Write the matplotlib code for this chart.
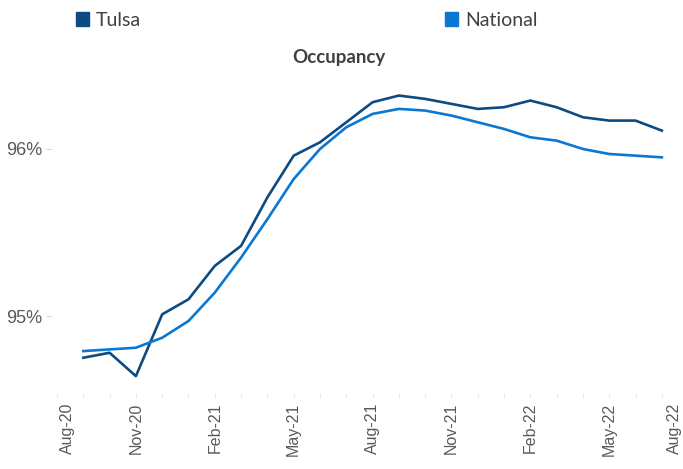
import matplotlib
matplotlib.use("Agg")
import matplotlib.pyplot as plt
import matplotlib.transforms as mtransforms
from matplotlib.patches import Patch
from matplotlib.ticker import FuncFormatter

# months from Aug-20 (0) to Aug-22 (24)
months = ['Aug-20', 'Sep-20', 'Oct-20', 'Nov-20', 'Dec-20', 'Jan-21', 'Feb-21',
          'Mar-21', 'Apr-21', 'May-21', 'Jun-21', 'Jul-21', 'Aug-21', 'Sep-21',
          'Oct-21', 'Nov-21', 'Dec-21', 'Jan-22', 'Feb-22', 'Mar-22', 'Apr-22',
          'May-22', 'Jun-22', 'Jul-22', 'Aug-22']

# data runs Sep-20 .. Jul-22
tulsa = [94.75, 94.78, 94.64, 95.01, 95.10, 95.30, 95.42, 95.71, 95.96, 96.04,
         96.16, 96.28, 96.32, 96.30, 96.27, 96.24, 96.25, 96.29, 96.25, 96.19,
         96.17, 96.17, 96.11]
national = [94.79, 94.80, 94.81, 94.87, 94.97, 95.14, 95.35, 95.58, 95.82, 96.00,
            96.13, 96.21, 96.24, 96.23, 96.20, 96.16, 96.12, 96.07, 96.05, 96.00,
            95.97, 95.96, 95.95]

c_tulsa = '#0D4B82'
c_nat = '#0A78D2'

fig = plt.figure(figsize=(6.83, 4.69), dpi=100)
ax = fig.add_axes([52 / 683, 76 / 469, 638 / 683, 318 / 469])

x = list(range(1, len(tulsa) + 1))
ax.plot(x, tulsa, color=c_tulsa, lw=1.9, label='Tulsa')
ax.plot(x, national, color=c_nat, lw=1.9, label='National')

ax.set_xlim(-0.19, 24.07)
ax.set_ylim(94.539, 96.443)

for s in ax.spines.values():
    s.set_visible(False)

ax.set_yticks([95, 96])
ax.yaxis.set_major_formatter(FuncFormatter(lambda v, p: '%d%%' % v))
ax.tick_params(axis='y', length=4, width=0.8, color='#d9d9d9', pad=3,
               labelsize=13, labelcolor='#595959')

ax.set_xticks(range(len(months)))
ax.set_xticklabels([m if i % 3 == 0 else '' for i, m in enumerate(months)],
                   rotation=90, fontfamily='Liberation Sans')
ax.tick_params(axis='x', length=3, width=0.8, color='#e6e6e6', pad=4,
               labelsize=11.5, labelcolor='#595959')
for t in ax.get_yticklabels():
    t.set_fontfamily('Liberation Sans')

# squeeze edge labels inward like the original
labels = ax.get_xticklabels()
labels[0].set_transform(labels[0].get_transform() +
                        mtransforms.ScaledTranslation(0.10, 0, fig.dpi_scale_trans))
labels[-1].set_transform(labels[-1].get_transform() +
                         mtransforms.ScaledTranslation(-0.14, 0, fig.dpi_scale_trans))

fig.text(339 / 683, 1 - 57 / 469, 'Occupancy', ha='center', va='center',
         fontsize=13.5, fontweight='bold', color='#404040', fontfamily='Lato')

handles = [Patch(color=c_tulsa), Patch(color=c_nat)]
fig.legend(handles, ['Tulsa', 'National'], ncol=2, loc='upper left',
           bbox_to_anchor=(64 / 683, 1.0), frameon=False,
           prop={'family': 'Lato', 'size': 14}, labelcolor='#404040',
           handlelength=0.7, handleheight=0.7, handletextpad=0.35,
           columnspacing=15.6, borderaxespad=0.2)

fig.savefig('out.png', dpi=100)
